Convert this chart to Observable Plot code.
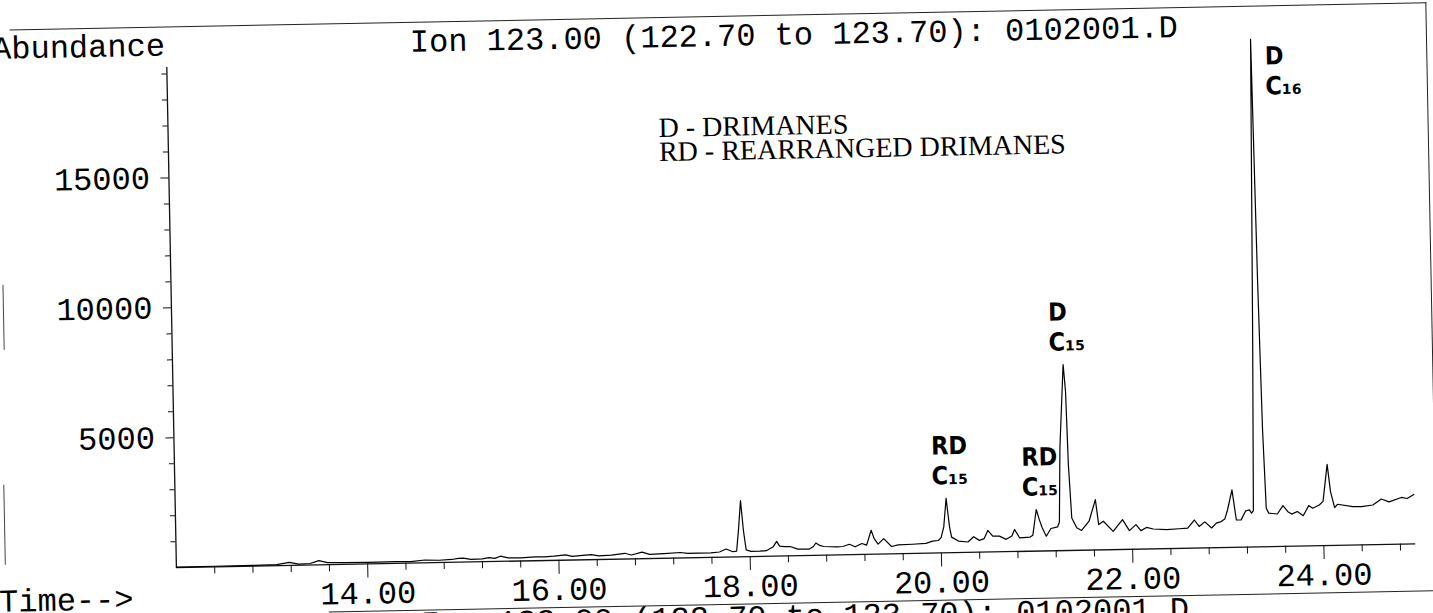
<!DOCTYPE html>
<html><head><meta charset="utf-8">
<script src="https://cdn.jsdelivr.net/npm/d3@7"></script>
<script src="https://cdn.jsdelivr.net/npm/@observablehq/plot@0.6"></script>
<style>
html,body{margin:0;padding:0;background:#fff;}
#outer{position:relative;width:1433px;height:613px;overflow:hidden;background:#fff;}
#stage{position:absolute;left:0;top:0;width:1433px;height:613px;transform:rotate(-1.1deg);transform-origin:716.5px 306.5px;}
.mono{position:absolute;font-family:"Liberation Mono","Courier New",monospace;font-size:32px;line-height:32px;white-space:nowrap;color:#000;}
.serif{position:absolute;font-family:"Liberation Serif","Times New Roman",serif;font-size:28px;line-height:24px;white-space:nowrap;color:#000;}
#chart{position:absolute;left:0;top:0;}
.edge{position:absolute;border-left:1.5px solid #444;width:0;}
</style></head>
<body><div id="outer"><div id="stage">
<div style="position:absolute;left:15px;top:16px;width:1416px;height:700px;border-top:1.5px solid #222;border-right:1.5px solid #222;"></div>
<div style="position:absolute;left:323px;top:604px;width:1200px;border-top:1.5px solid #222;"></div>
<div class="edge" style="left:3px;top:271px;height:65px;"></div>
<div class="edge" style="left:0px;top:471px;height:80px;"></div>
<div id="chart"></div>
<div class="mono" style="left:415px;top:21.5px;">Ion 123.00 (122.70 to 123.70): 0102001.D</div>
<div class="mono" style="right:1263px;top:20.5px;text-align:right;">Abundance</div>
<div class="mono" style="right:1305px;top:573.5px;text-align:right;">Time--&gt;</div>
<div class="mono" style="left:415px;top:603.5px;">Ion 123.00 (122.70 to 123.70): 0102001.D</div>
<div class="serif" style="left:662px;top:115px;">D - DRIMANES<br>RD - REARRANGED DRIMANES</div>
</div></div>
<script>
// Retention time (min) and abundance of the ion-123 trace
const times = [12.00, 12.40, 12.80, 13.05, 13.18, 13.28, 13.40, 13.49, 13.58, 13.75,
  14.00, 14.30, 14.45, 14.60, 14.75, 14.88, 14.95, 15.00, 15.08, 15.20,
  15.27, 15.33, 15.39, 15.47, 15.60, 15.75, 15.85, 15.95, 16.07, 16.14,
  16.22, 16.34, 16.42, 16.55, 16.69, 16.76, 16.87, 16.95, 17.10, 17.27,
  17.35, 17.45, 17.59, 17.68, 17.75, 17.82, 17.86, 17.885, 17.91, 17.935,
  17.96, 18.01, 18.10, 18.17, 18.24, 18.28, 18.31, 18.36, 18.42, 18.50,
  18.62, 18.66, 18.69, 18.73, 18.77, 18.91, 18.97, 19.04, 19.10, 19.17,
  19.22, 19.27, 19.30, 19.34, 19.40, 19.48, 19.55, 19.70, 19.84, 19.91,
  19.97, 20.00, 20.03, 20.06, 20.09, 20.11, 20.18, 20.28, 20.34, 20.40,
  20.45, 20.49, 20.54, 20.61, 20.68, 20.74, 20.77, 20.82, 20.93, 20.96,
  21.00, 21.03, 21.06, 21.10, 21.15, 21.22, 21.24, 21.26, 21.31, 21.33,
  21.345, 21.37, 21.42, 21.47, 21.55, 21.62, 21.65, 21.70, 21.80, 21.90,
  21.97, 22.04, 22.09, 22.15, 22.22, 22.36, 22.49, 22.58, 22.65, 22.70,
  22.76, 22.83, 22.88, 22.93, 22.97, 23.00, 23.05, 23.09, 23.14, 23.19,
  23.23, 23.25, 23.27, 23.297, 23.335, 23.36, 23.382, 23.405, 23.43, 23.52,
  23.58, 23.63, 23.67, 23.73, 23.79, 23.85, 23.89, 23.96, 24.00, 24.05,
  24.08, 24.12, 24.15, 24.31, 24.40, 24.52, 24.61, 24.69, 24.82, 24.88, 24.95];
const abundance = [20, 25, 30, 40, 115, 45, 60, 165, 80, 70,
  60, 70, 60, 110, 90, 110, 150, 150, 100, 110,
  150, 120, 200, 130, 120, 150, 140, 160, 200, 140,
  160, 190, 140, 160, 220, 150, 250, 160, 180, 210,
  170, 170, 170, 200, 310, 200, 220, 1100, 2160, 1000,
  260, 200, 200, 215, 350, 565, 380, 360, 360, 250,
  245, 330, 475, 380, 335, 310, 320, 400, 300, 420,
  355, 925, 600, 385, 595, 285, 340, 355, 380, 460,
  480, 590, 1000, 2100, 1000, 600, 445, 400, 600, 455,
  520, 830, 610, 605, 475, 600, 850, 525, 545, 615,
  1600, 1210, 885, 565, 860, 915, 1100, 3950, 7160, 6130,
  3300, 1250, 865, 760, 1110, 1940, 975, 1100, 705, 1150,
  720, 945, 710, 830, 765, 730, 755, 770, 1080, 830,
  1000, 760, 945, 1000, 1100, 1450, 2210, 1050, 1050, 1395,
  1430, 1300, 1400, 8000, 19530, 10200, 4500, 1480, 1290, 1250,
  1570, 1330, 1235, 1330, 1165, 1550, 1445, 1565, 1700, 3120,
  2070, 1450, 1580, 1475, 1470, 1525, 1750, 1635, 1795, 1750, 1900];

// Axis ticks
const xDomain = [12, 24.96];
const yDomain = [0, 19250];
const majorX = [14, 16, 18, 20, 22, 24];
const majorY = [5000, 10000, 15000];

// Hand-written peak annotations
const peakTimes = [20.06, 21.00, 21.31];
const peakHeights = [2100, 1600, 7160];
const peakLabels = ["RD\nC\u2081\u2085", "RD\nC\u2081\u2085", "D\nC\u2081\u2085"];
const topPeakTimes = [23.335];
const topPeakHeights = [19530];
const topPeakLabels = ["D\nC\u2081\u2086"];

const trace = times.map((t, i) => ({t, a: abundance[i]}));
const minorX = d3.range(12.4, 24.9, 0.4).map(v => +v.toFixed(1)).filter(v => !majorX.includes(v));
const minorY = d3.range(1000, 19001, 1000).filter(v => !majorY.includes(v));
const peaks = peakTimes.map((t, i) => ({t, a: peakHeights[i], label: peakLabels[i]}));
const topPeaks = topPeakTimes.map((t, i) => ({t, a: topPeakHeights[i], label: topPeakLabels[i]}));

const hand = {fontFamily: "DejaVu Sans Condensed, DejaVu Sans, sans-serif", fontWeight: "bold", fontSize: 25, lineHeight: 1.2, fill: "#000"};

const chart = Plot.plot({
  width: 1433, height: 613,
  marginLeft: 171, marginRight: 22.5, marginTop: 56.5, marginBottom: 56.3,
  x: {domain: xDomain, label: null},
  y: {domain: yDomain, label: null},
  style: {fontFamily: "Liberation Mono, Courier New, monospace", fontSize: "32px", color: "#000", background: "transparent", overflow: "visible"},
  marks: [
    Plot.axisX({ticks: minorX, tickSize: 7, tickFormat: () => "", label: null, stroke: "#111"}),
    Plot.axisX({ticks: majorX, tickSize: 14, tickPadding: 3, tickFormat: d => d.toFixed(2), label: null, stroke: "#111"}),
    Plot.axisY({ticks: minorY, tickSize: 5, tickFormat: () => "", label: null, stroke: "#111"}),
    Plot.axisY({ticks: majorY, tickSize: 8, tickPadding: 11, tickFormat: d3.format("d"), label: null, stroke: "#111"}),
    Plot.ruleY([yDomain[0]], {stroke: "#111", strokeWidth: 1.3}),
    Plot.ruleX([xDomain[0]], {stroke: "#111", strokeWidth: 1.3}),
    Plot.line(trace, {x: "t", y: "a", stroke: "#000", strokeWidth: 1.2}),
    Plot.text(peaks, {x: "t", y: "a", text: "label", textAnchor: "start", lineAnchor: "bottom", dx: -14, dy: -14, ...hand}),
    Plot.text(topPeaks, {x: "t", y: "a", text: "label", textAnchor: "start", lineAnchor: "top", dx: 14, dy: 4, ...hand})
  ]
});
document.getElementById("chart").appendChild(chart);
</script>
</body></html>
